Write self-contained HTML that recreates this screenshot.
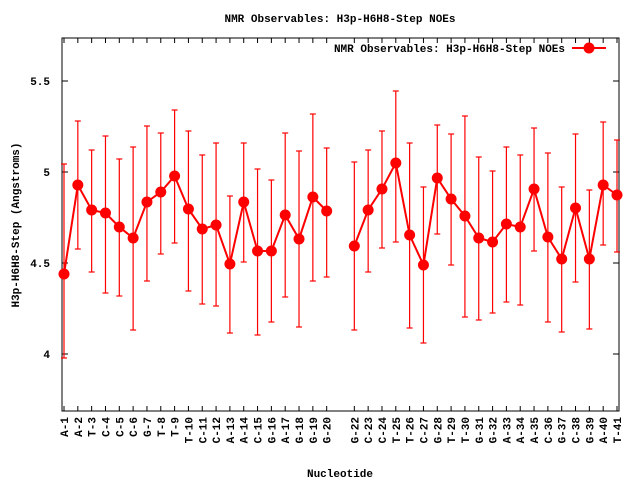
<!DOCTYPE html>
<html><head><meta charset="utf-8"><style>
html,body{margin:0;padding:0;background:#fff}
svg{display:block}
text{font-family:"Liberation Mono",monospace;font-weight:bold;font-size:11px;fill:#000}
</style></head><body>
<svg id="s" width="640" height="480" xmlns="http://www.w3.org/2000/svg">
<rect x="0" y="0" width="640" height="480" fill="#fff"/>
<text x="340" y="22" text-anchor="middle">NMR Observables: H3p-H6H8-Step NOEs</text>
<text x="340" y="477" text-anchor="middle">Nucleotide</text>
<text transform="translate(19,225) rotate(-90)" text-anchor="middle">H3p-H6H8-Step (Angstroms)</text>
<g id="g"></g>
</svg>
<script>
var d=[[1,274,164,358],[2,185,121,249],[3,210,150,272],[4,213,136,293],[5,227,159,296],[6,238,147,330],[7,202,126,281],[8,192,133,254],[9,176,110,243],[10,209,131,291],[11,229,155,304],[12,225,143,306],[13,264,196,333],[14,202,143,262],[15,251,169,335],[16,251,180,322],[17,215,133,297],[18,239,151,327],[19,197,114,281],[20,211,148,277],[22,246,162,330],[23,210,150,272],[24,189,131,248],[25,163,91,242],[26,235,143,328],[27,265,187,343],[28,178,125,234],[29,199,134,265],[30,216,116,317],[31,238,157,320],[32,242,171,313],[33,224,147,302],[34,227,155,305],[35,189,128,251],[36,237,153,322],[37,259,187,332],[38,208,134,282],[39,259,190,329],[40,185,122,245],[41,195,140,252]];
var L=["A-1","A-2","T-3","C-4","C-5","C-6","G-7","T-8","T-9","T-10","C-11","C-12","A-13","A-14","C-15","G-16","A-17","G-18","G-19","G-20","","G-22","C-23","C-24","T-25","T-26","C-27","G-28","T-29","T-30","G-31","G-32","A-33","A-34","A-35","C-36","G-37","C-38","G-39","A-40","T-41"];
var X=function(i){return 64+(i-1)*13.825};
var h='';
var L0=62,R=619,T=38,B=411;
[[81,"5.5"],[172,"5"],[263,"4.5"],[354,"4"]].forEach(function(t){
h+='<line x1="'+L0+'" y1="'+t[0]+'" x2="'+(L0+6)+'" y2="'+t[0]+'" stroke="#000"/>';
h+='<line x1="'+R+'" y1="'+t[0]+'" x2="'+(R-6)+'" y2="'+t[0]+'" stroke="#000"/>';
h+='<text x="'+(L0-12)+'" y="'+(t[0]+4)+'" text-anchor="end">'+t[1]+'</text>';});
for(var i=1;i<=41;i++){var x=X(i);
if(L[i-1]){
h+='<line x1="'+x+'" y1="'+B+'" x2="'+x+'" y2="'+(B-5)+'" stroke="#000"/>';
h+='<line x1="'+x+'" y1="'+T+'" x2="'+x+'" y2="'+(T+5)+'" stroke="#000"/>';
h+='<text transform="translate('+(x+4)+','+(B+6)+') rotate(-90)" text-anchor="end">'+L[i-1]+'</text>';}}
h+='<rect x="'+L0+'" y="'+T+'" width="'+(R-L0)+'" height="'+(B-T)+'" fill="none" stroke="#000"/>';
d.forEach(function(p){var x=X(p[0]);
h+='<line x1="'+x+'" y1="'+p[2]+'" x2="'+x+'" y2="'+p[3]+'" stroke="#f00" stroke-width="1.2"/>';
h+='<line x1="'+(x-3)+'" y1="'+p[2]+'" x2="'+(x+3)+'" y2="'+p[2]+'" stroke="#f00" stroke-width="1.2"/>';
h+='<line x1="'+(x-3)+'" y1="'+p[3]+'" x2="'+(x+3)+'" y2="'+p[3]+'" stroke="#f00" stroke-width="1.2"/>';});
function seg(a){return '<polyline fill="none" stroke="#f00" stroke-width="2" points="'+a.map(function(p){return X(p[0])+','+p[1]}).join(' ')+'"/>';}
h+=seg(d.slice(0,20))+seg(d.slice(20));
d.forEach(function(p){h+='<circle cx="'+X(p[0])+'" cy="'+p[1]+'" r="5.5" fill="#f00"/>';});
h+='<text x="565" y="52" text-anchor="end">NMR Observables: H3p-H6H8-Step NOEs</text>';
h+='<line x1="572" y1="48" x2="606" y2="48" stroke="#f00" stroke-width="2"/>';
h+='<circle cx="589" cy="48" r="5.5" fill="#f00"/>';
document.getElementById('g').innerHTML=h;
</script>
</body></html>
